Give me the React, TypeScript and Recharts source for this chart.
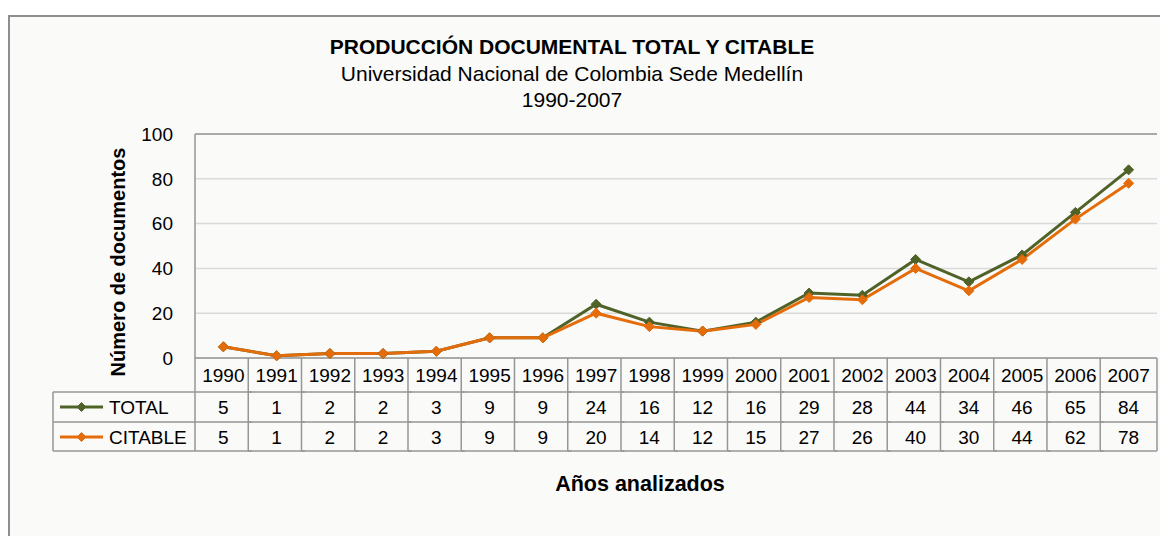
import React from "react";
import {
  CartesianGrid,
  Customized,
  Line,
  LineChart,
  ReferenceLine,
  XAxis,
  YAxis,
} from "recharts";

const YEARS = [
  "1990", "1991", "1992", "1993", "1994", "1995", "1996", "1997", "1998",
  "1999", "2000", "2001", "2002", "2003", "2004", "2005", "2006", "2007",
];
const TOTAL = [5, 1, 2, 2, 3, 9, 9, 24, 16, 12, 16, 29, 28, 44, 34, 46, 65, 84];
const CITABLE = [5, 1, 2, 2, 3, 9, 9, 20, 14, 12, 15, 27, 26, 40, 30, 44, 62, 78];
const Y_TICKS = [0, 20, 40, 60, 80, 100];

const SERIES = [
  { key: "total", name: "TOTAL", color: "#4f6228" },
  { key: "citable", name: "CITABLE", color: "#e46c0a" },
];

const data = YEARS.map((year, i) => ({
  year,
  total: TOTAL[i],
  citable: CITABLE[i],
}));

const W = 1158;
const H = 519;
const MARGIN = { top: 117, right: 11, bottom: 78, left: 125 };
const PLOT_W = W - MARGIN.left - MARGIN.right;
const COL_W = PLOT_W / YEARS.length;
const FONT = "'Liberation Sans', Arial, sans-serif";
const BORDER = "#969696";
const ROW = { head: 34, total: 64, citable: 93 };

function Diamond({ cx, cy, color, r = 5 }: any) {
  if (cx == null || cy == null) return null;
  return (
    <polygon
      points={`${cx},${cy - r} ${cx + r},${cy} ${cx},${cy + r} ${cx - r},${cy}`}
      fill={color}
      stroke={color}
    />
  );
}

function TableTick({ x, y, payload, index }: any) {
  const left = x - COL_W / 2;
  const right = x + COL_W / 2;
  const last = index === YEARS.length - 1;
  const txt = { fontFamily: FONT, fontSize: 19, fill: "#000", textAnchor: "middle" as const, dominantBaseline: "central" as const };
  const legendLeft = left - 142;
  return (
    <g>
      <line x1={left} y1={y} x2={left} y2={y + ROW.citable} stroke={BORDER} strokeWidth={1.5} />
      {last && <line x1={right} y1={y} x2={right} y2={y + ROW.citable} stroke={BORDER} strokeWidth={1.5} />}
      <line x1={left} y1={y + ROW.head} x2={right} y2={y + ROW.head} stroke={BORDER} strokeWidth={1.5} />
      <line x1={left} y1={y + ROW.total} x2={right} y2={y + ROW.total} stroke={BORDER} strokeWidth={1.5} />
      <line x1={left} y1={y + ROW.citable} x2={right} y2={y + ROW.citable} stroke={BORDER} strokeWidth={1.5} />
      <text x={x} y={y + 17} {...txt}>{payload.value}</text>
      <text x={x} y={y + 49} {...txt}>{TOTAL[index]}</text>
      <text x={x} y={y + 79} {...txt}>{CITABLE[index]}</text>
      {index === 0 && (
        <g>
          <line x1={legendLeft} y1={y + ROW.head} x2={left} y2={y + ROW.head} stroke={BORDER} strokeWidth={1.5} />
          <line x1={legendLeft} y1={y + ROW.total} x2={left} y2={y + ROW.total} stroke={BORDER} strokeWidth={1.5} />
          <line x1={legendLeft} y1={y + ROW.citable} x2={left} y2={y + ROW.citable} stroke={BORDER} strokeWidth={1.5} />
          <line x1={legendLeft} y1={y + ROW.head} x2={legendLeft} y2={y + ROW.citable} stroke={BORDER} strokeWidth={1.5} />
          {SERIES.map((s, i) => {
            const cy = y + (i === 0 ? 49 : 79);
            return (
              <g key={s.key}>
                <line x1={legendLeft + 7} y1={cy} x2={legendLeft + 50} y2={cy} stroke={s.color} strokeWidth={3} />
                <Diamond cx={legendLeft + 28.5} cy={cy} color={s.color} r={4.5} />
                <text x={legendLeft + 56} y={cy} fontFamily={FONT} fontSize={19} fill="#000" dominantBaseline="central">
                  {s.name}
                </text>
              </g>
            );
          })}
        </g>
      )}
    </g>
  );
}

function Titles() {
  return (
    <g fontFamily={FONT} fill="#000">
      <text x={562} y={37} textAnchor="middle" fontSize={21} fontWeight="bold">
        PRODUCCIÓN DOCUMENTAL TOTAL Y CITABLE
      </text>
      <text x={562} y={64} textAnchor="middle" fontSize={21}>
        Universidad Nacional de Colombia Sede Medellín
      </text>
      <text x={562} y={90} textAnchor="middle" fontSize={21}>
        1990-2007
      </text>
      <text x={630} y={474} textAnchor="middle" fontSize={21.5} fontWeight="bold">
        Años analizados
      </text>
      <text
        x={108}
        y={245}
        textAnchor="middle"
        fontSize={20}
        fontWeight="bold"
        transform="rotate(-90 108 245)"
        dominantBaseline="central"
      >
        Número de documentos
      </text>
    </g>
  );
}

export default function App() {
  return (
    <div style={{ paddingTop: 7 }}>
      <div
        style={{
          width: 1160,
          height: 521,
          boxSizing: "border-box",
          borderLeft: "2px solid #8e8e8e",
          borderTop: "2px solid #8e8e8e",
          background: "#fafaf8",
        }}
      >
        <LineChart width={W} height={H} data={data} margin={MARGIN}>
          <CartesianGrid horizontal vertical={false} stroke="#d9d9d9" strokeWidth={1.5} />
          <XAxis
            dataKey="year"
            interval={0}
            height={100}
            tickSize={0}
            tickMargin={0}
            tickLine={false}
            padding={{ left: COL_W / 2, right: COL_W / 2 }}
            axisLine={{ stroke: BORDER, strokeWidth: 1.5 }}
            tick={<TableTick />}
          />
          <YAxis
            domain={[0, 100]}
            ticks={Y_TICKS}
            width={60}
            tickSize={0}
            tickMargin={22}
            tickLine={false}
            axisLine={{ stroke: BORDER, strokeWidth: 1.5 }}
            tick={{ fontFamily: FONT, fontSize: 19, fill: "#000" }}
          />
          <YAxis
            yAxisId="right"
            orientation="right"
            width={0}
            tick={false}
            tickLine={false}
            axisLine={{ stroke: BORDER, strokeWidth: 1.5 }}
          />
          <ReferenceLine y={100} stroke={BORDER} strokeWidth={1.5} />
          {SERIES.map((s) => (
            <Line
              key={s.key}
              type="linear"
              dataKey={s.key}
              name={s.name}
              stroke={s.color}
              strokeWidth={3}
              dot={(p: any) => <Diamond key={p.index} cx={p.cx} cy={p.cy} color={s.color} />}
              activeDot={false}
              isAnimationActive={false}
            />
          ))}
          <Customized component={<Titles />} />
        </LineChart>
      </div>
    </div>
  );
}
